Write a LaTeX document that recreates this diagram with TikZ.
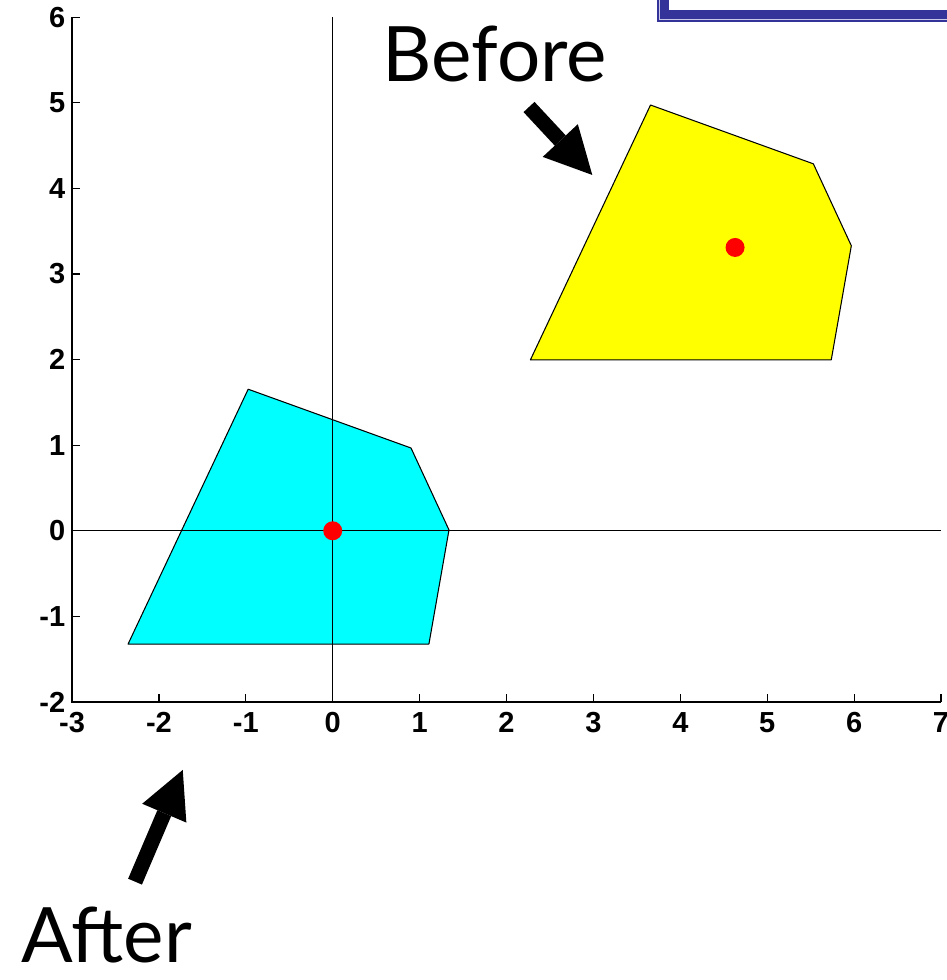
\documentclass[tikz,border=0pt]{standalone}
\usepackage{fontspec}
\setsansfont{Liberation Sans}
\newfontfamily\captionfont{Lato}
\usetikzlibrary{arrows.meta}

\definecolor{framebl}{RGB}{51,51,153}
\definecolor{framelt}{RGB}{200,200,232}
\definecolor{aftercol}{RGB}{0,255,255}
\definecolor{beforecol}{RGB}{255,255,0}
\definecolor{centrecol}{RGB}{255,0,0}

\begin{document}
\begin{tikzpicture}[
    x=1.738cm, y=1.712cm,
    axisline/.style={line width=0.8pt},
    crossline/.style={line width=0.6pt},
    tick/.style    ={line width=0.7pt},
    ticklbl/.style ={font=\fontsize{16.5}{16.5}\selectfont\sffamily\bfseries,
                     inner sep=0pt},
    poly/.style    ={draw=black, line width=0.6pt, line join=round},
    centre/.style  ={fill=centrecol},
    callout/.style ={line width=0.3cm,
                     -{Triangle[length=0.94cm, width=0.96cm, line width=0pt]}},
    caption/.style ={font=\fontsize{43.5}{43.5}\selectfont\captionfont,
                     inner sep=0pt, anchor=base west},
]
\useasboundingbox (-3.829,-5.248) rectangle (7.069,6.201);
\clip (-3.829,-5.248) rectangle (7.069,6.201);

% ----------------------------------------------------------------------
%  slide frame (corner, top right)
% ----------------------------------------------------------------------
\fill[framebl] (3.732,5.944) rectangle (7.3,6.4);
\draw[framelt, line width=0.7pt] (3.761,6.4) |- (7.3,5.973);
\fill[white] (3.870,6.084) rectangle (7.3,6.4);

% ----------------------------------------------------------------------
%  polygons : after (centred) and before (shifted)
% ----------------------------------------------------------------------
\draw[poly, fill=aftercol] (-0.973,1.654) -- (0.901,0.967) -- (1.338,0.01)
      -- (1.107,-1.323) -- (-2.355,-1.323) -- cycle;
\draw[poly, fill=beforecol, shift={(4.63,3.32)}] (-0.973,1.654) -- (0.901,0.967)
      -- (1.338,0.01) -- (1.107,-1.323) -- (-2.355,-1.323) -- cycle;

% ----------------------------------------------------------------------
%  axes, ticks and tick labels
% ----------------------------------------------------------------------
\draw[crossline] (0,-2) -- (0,6);
\draw[crossline] (-3,0) -- (7,0);
\draw[axisline] (-3,6) -- (-3,-2) -- (7,-2);

\foreach \xv in {-2,...,7}
  \draw[tick] (\xv,-2) -- ++(0,0.093);
\foreach \yv in {-1,...,6}
  \draw[tick] (-3,\yv) -- ++(0.092,0);

\foreach \xv in {-3,...,7}
  \node[ticklbl, anchor=north] (xl\xv) at (\xv,-2.12) {\xv};
\foreach \yv in {-2,...,6}
  \node[ticklbl, anchor=east] (yl\yv) at (-3.075,\yv) {\yv};

% centroids
\fill[centre] (0,0) circle[radius=0.19cm];
\fill[centre] (4.63,3.31) circle[radius=0.19cm];

% ----------------------------------------------------------------------
%  captions with block arrows
% ----------------------------------------------------------------------
\node[caption] (before) at (0.57,5.243) {Before};
\node[caption] (after)  at (-3.586,-5.049) {After};

\coordinate (beforetail) at (2.259,4.951);
\coordinate (beforetip)  at (2.987,4.157);
\coordinate (aftertail)  at (-2.275,-4.099);
\coordinate (aftertip)   at (-1.726,-2.794);

\draw[callout] (beforetail) -- (beforetip);
\draw[callout] (aftertail)  -- (aftertip);

\end{tikzpicture}
\end{document}
